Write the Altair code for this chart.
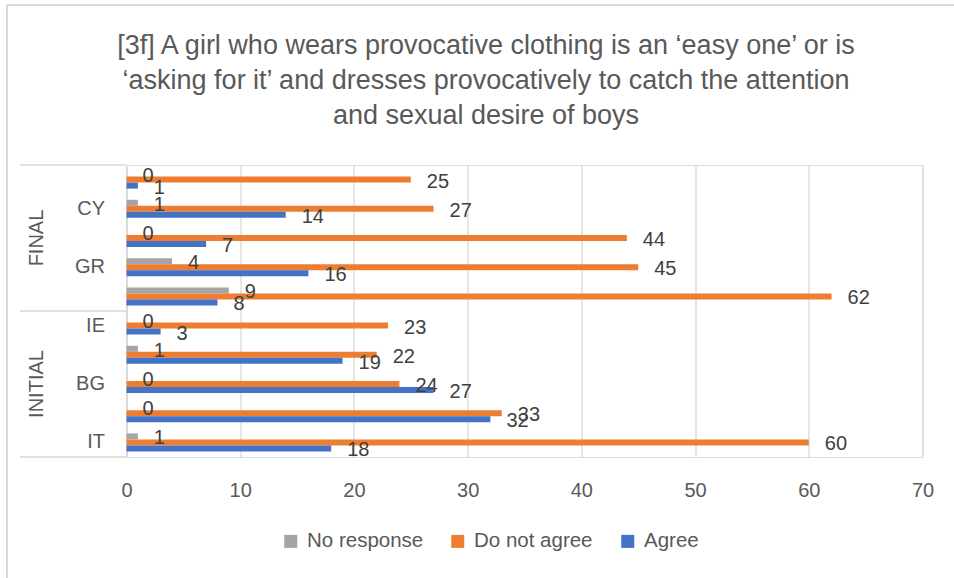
import altair as alt
import pandas as pd

FONT = "Liberation Sans"
GRID = "#d9d9d9"
TXT = "#595959"

title_lines = [
    "[3f] A girl who wears provocative clothing is an \u2018easy one\u2019 or is",
    "\u2018asking for it\u2019 and dresses provocatively to catch the attention",
    "and sexual desire of boys",
]

countries = ["IT", "GR", "BG", "CY", "IE"]
phases = ["INITIAL", "FINAL"]
series = ["No response", "Do not agree", "Agree"]
colors = ["#A5A5A5", "#ED7D31", "#4472C4"]
x_ticks = [0, 10, 20, 30, 40, 50, 60, 70]

agree_initial = [18, 32, 27, 19, 3]
not_agree_initial = [60, 33, 24, 22, 23]
no_response_initial = [1, 0, 0, 1, 0]
agree_final = [8, 16, 7, 14, 1]
not_agree_final = [62, 45, 44, 27, 25]
no_response_final = [9, 4, 0, 1, 0]

shown_labels = ["INITIAL|IT", "INITIAL|BG", "INITIAL|IE", "FINAL|GR", "FINAL|CY"]

values = {
    ("INITIAL", "Agree"): agree_initial,
    ("INITIAL", "Do not agree"): not_agree_initial,
    ("INITIAL", "No response"): no_response_initial,
    ("FINAL", "Agree"): agree_final,
    ("FINAL", "Do not agree"): not_agree_final,
    ("FINAL", "No response"): no_response_final,
}

rows = []
for p in phases:
    for i, c in enumerate(countries):
        for s in series:
            rows.append({"key": f"{p}|{c}", "phase": p, "country": c,
                         "series": s, "value": values[(p, s)][i]})
df = pd.DataFrame(rows)

y_order = [f"{p}|{c}" for p in reversed(phases) for c in reversed(countries)]
y_scale = alt.Scale(domain=y_order, paddingInner=0, paddingOuter=0)

label_expr = ("indexof(" + str(shown_labels).replace('"', "'") +
              ", datum.value) >= 0 ? split(datum.value, '|')[1] : ''")

y_axis = alt.Axis(title=None, labelExpr=label_expr, ticks=False, tickSize=0,
                  domainColor=GRID, domainWidth=1.5, labelFontSize=20,
                  labelColor=TXT, labelFont=FONT, labelPadding=22, grid=False)
y_enc = alt.Y("key:N", scale=y_scale, axis=y_axis)
yoff = alt.YOffset("series:N", scale=alt.Scale(domain=series, paddingInner=0, paddingOuter=0.93))

x_enc = alt.X("value:Q", scale=alt.Scale(domain=[0, 70], nice=False),
              axis=alt.Axis(title=None, values=x_ticks, grid=True, gridColor=GRID,
                            gridWidth=1.3, domain=False, ticks=False, tickSize=0,
                            labelFontSize=20, labelColor=TXT, labelFont=FONT,
                            labelPadding=23, labelFlush=False, labelBound=False))

bars = alt.Chart(df).mark_bar().encode(
    x=x_enc, y=y_enc, yOffset=yoff,
    color=alt.Color("series:N", scale=alt.Scale(domain=series, range=colors),
                    legend=alt.Legend(title=None, orient="none", direction="horizontal",
                                      legendX=154, legendY=366, symbolType="square",
                                      symbolSize=169, symbolStrokeWidth=0,
                                      labelFontSize=20.5, labelFont=FONT, labelColor=TXT,
                                      labelOffset=6, columnPadding=24, padding=0)),
)

labels = alt.Chart(df).mark_text(align="left", baseline="middle", dx=16, dy=2,
                                 fontSize=20, font=FONT, color="#404040").encode(
    x="value:Q", y=y_enc, yOffset=yoff, text="value:Q")

groups_df = pd.DataFrame({"phase": phases, "key": ["INITIAL|BG", "FINAL|BG"]})
group_text = alt.Chart(groups_df).mark_text(angle=270, align="center", baseline="middle",
                                            fontSize=20, font=FONT, color=TXT).encode(
    y=y_enc, x=alt.value(-89.5), text="phase:N")

sep_top_df = pd.DataFrame({"key": ["FINAL|IE", "INITIAL|IE"]})
sep_top = alt.Chart(sep_top_df).mark_rule(color=GRID, strokeWidth=1.5).encode(
    y=alt.Y("key:N", scale=y_scale, axis=y_axis, bandPosition=0),
    x=alt.value(-106.5), x2=alt.value(0))
sep_bot_df = pd.DataFrame({"key": ["INITIAL|IT"]})
sep_bot = alt.Chart(sep_bot_df).mark_rule(color=GRID, strokeWidth=1.5).encode(
    y=alt.Y("key:N", scale=y_scale, axis=y_axis, bandPosition=1),
    x=alt.value(-106.5), x2=alt.value(0))

one = pd.DataFrame({"a": [0]})
border_top = alt.Chart(one).mark_rule(color=GRID, strokeWidth=2).encode(
    x=alt.value(-119.5), x2=alt.value(840), y=alt.value(-160))
border_left = alt.Chart(one).mark_rule(color=GRID, strokeWidth=2).encode(
    x=alt.value(-119.5), y=alt.value(-160), y2=alt.value(430))

title_df = pd.DataFrame({"t": [0]})
title = alt.Chart(title_df).mark_text(align="center", baseline="middle", fontSize=27,
                                      font=FONT, color=TXT, lineHeight=35).encode(
    x=alt.value(359.5), y=alt.value(-119), text=alt.value(title_lines))

chart = alt.layer(border_top, border_left, sep_top, sep_bot, bars, labels, group_text, title).properties(
    width=796, height=292,
    autosize=alt.AutoSizeParams(type="none"),
    padding={"left": 126.5, "top": 165, "right": 31.5, "bottom": 121},
).configure_view(stroke=None).configure(background="white")

chart.save("out.html", embed_options={"renderer": "svg", "actions": False})
